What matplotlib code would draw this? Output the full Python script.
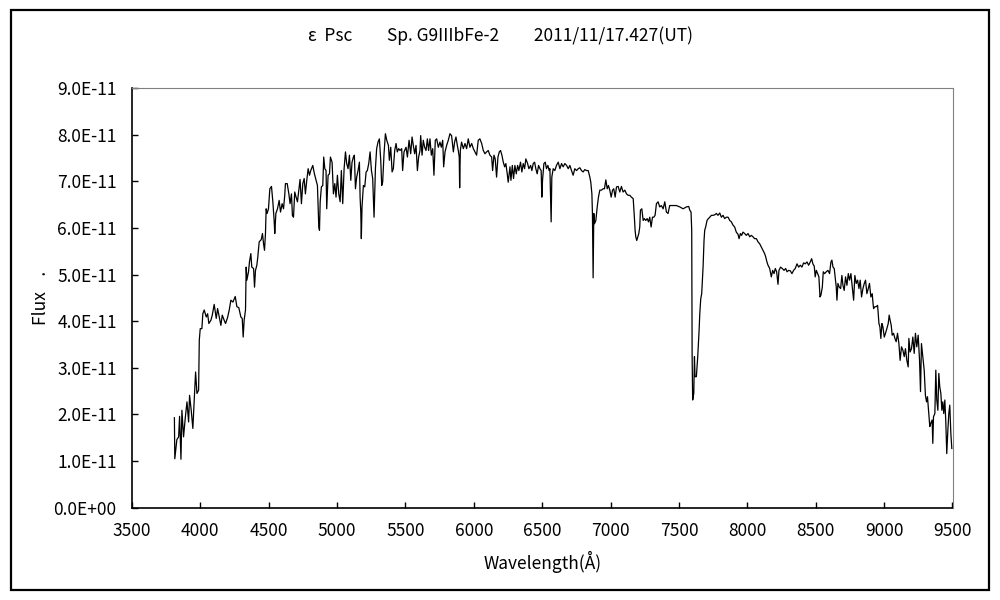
import numpy as np
import matplotlib
matplotlib.use("Agg")
import matplotlib.pyplot as plt
from matplotlib.patches import Rectangle
from matplotlib.ticker import FuncFormatter, MultipleLocator

plt.rcParams['font.family'] = ['Noto Sans CJK JP', 'DejaVu Sans']

# 波長 (Å) とフラックス (x1e-11) : 図から読み取った値
wave_blue = [3810, 3813, 3828, 3841, 3848, 3858, 3865, 3877, 3889, 3902, 3914, 3921, 3933, 3945,
             3955, 3965, 3975, 3987, 3992, 3999, 4011, 4018, 4028, 4043, 4053, 4062, 4077, 4087,
             4101, 4116, 4126, 4140, 4150, 4160, 4174, 4184, 4199, 4211, 4223, 4238, 4255, 4267,
             4281, 4296, 4306, 4313, 4320, 4330, 4335, 4340, 4352, 4359, 4369, 4376, 4389, 4396,
             4403, 4413, 4420, 4430, 4445, 4454, 4462, 4469, 4476, 4481, 4488, 4498, 4508, 4520,
             4530, 4540, 4544, 4552, 4564, 4576, 4586, 4598, 4608, 4617, 4622, 4635, 4647, 4656,
             4666, 4673, 4681, 4690, 4700, 4710, 4720, 4729, 4739, 4749, 4759, 4768, 4778, 4788,
             4798, 4807, 4822, 4834, 4846, 4856, 4866, 4871, 4876, 4885, 4895, 4902, 4910, 4919,
             4924, 4934, 4944, 4951, 4963, 4973, 4983, 4992, 5002, 5012, 5022, 5031, 5041, 5051,
             5061, 5070, 5080, 5090, 5100, 5109, 5119, 5126, 5134, 5143, 5153, 5163, 5168, 5173,
             5177, 5182, 5192, 5202, 5212, 5221, 5231, 5241, 5251, 5260, 5270, 5280, 5289, 5299,
             5309, 5319, 5326, 5333, 5343, 5353, 5363, 5375, 5382, 5392, 5402, 5411, 5421, 5431,
             5440, 5450]
flux_blue = [1.93, 1.05, 1.46, 1.52, 1.96, 1.04, 2.09, 1.52, 1.91, 2.27, 1.84, 2.41, 2.09, 1.70,
             2.31, 2.91, 2.45, 2.52, 3.59, 3.84, 3.84, 4.16, 4.24, 4.09, 4.16, 3.95, 4.02, 4.13,
             4.36, 4.06, 4.27, 4.06, 3.91, 4.13, 4.02, 3.95, 4.08, 4.24, 4.45, 4.41, 4.53, 4.31,
             4.29, 4.09, 4.06, 3.66, 4.02, 4.24, 5.16, 4.88, 5.06, 5.27, 5.45, 5.16, 5.13, 4.73,
             5.09, 5.20, 5.38, 5.70, 5.75, 5.88, 5.66, 5.52, 5.88, 6.41, 6.31, 6.41, 6.84, 6.89,
             6.56, 6.13, 5.88, 6.31, 6.41, 6.59, 6.34, 6.52, 6.41, 6.70, 6.95, 6.95, 6.73, 6.52,
             6.73, 6.27, 6.23, 6.77, 6.66, 6.56, 6.81, 7.04, 6.52, 6.95, 7.06, 6.73, 7.02, 7.27,
             7.13, 7.23, 7.34, 7.16, 7.02, 6.91, 6.02, 5.95, 6.56, 6.88, 6.91, 7.52, 7.27, 7.23,
             6.41, 7.13, 7.16, 7.52, 7.41, 6.73, 6.95, 6.66, 7.13, 6.73, 6.56, 7.23, 6.52, 7.27,
             7.63, 7.38, 7.27, 7.56, 7.02, 7.41, 7.52, 7.56, 6.84, 7.09, 7.23, 7.41, 6.66, 6.34,
             5.77, 6.45, 6.91, 6.88, 7.20, 7.23, 7.38, 7.63, 7.23, 7.06, 6.23, 7.27, 7.70, 7.84,
             7.91, 7.45, 6.91, 6.98, 7.59, 8.02, 7.88, 7.77, 7.45, 7.73, 7.20, 7.27, 7.66, 7.81,
             7.63, 7.70]

wave_mid = [5460, 5472, 5479, 5489, 5504, 5514, 5526, 5538, 5548, 5557, 5567, 5577, 5587, 5596,
            5606, 5611, 5621, 5630, 5640, 5650, 5660, 5669, 5679, 5689, 5699, 5708, 5718, 5728,
            5740, 5752, 5762, 5772, 5779, 5789, 5801, 5813, 5825, 5837, 5850, 5859, 5869, 5879,
            5886, 5893, 5896, 5901, 5910, 5923, 5935, 5947, 5959, 5971, 5984, 5996, 6008, 6020,
            6032, 6044, 6057, 6069, 6081, 6093, 6105, 6117, 6130, 6137, 6147, 6156, 6166, 6176,
            6186, 6195, 6205, 6215, 6225, 6234, 6244, 6251, 6264, 6271, 6281, 6290, 6300, 6310,
            6320, 6329, 6341, 6351, 6361, 6371, 6380, 6393, 6402, 6415, 6424, 6434, 6444, 6453,
            6463, 6473, 6483, 6492, 6497, 6502, 6512, 6522, 6531, 6541, 6551, 6556, 6561, 6565,
            6570, 6580, 6592, 6604, 6617, 6629, 6641, 6653, 6665, 6678, 6690, 6702, 6714, 6726,
            6738, 6751, 6763, 6775, 6787, 6799, 6811, 6824, 6836, 6848, 6855, 6863, 6867, 6872,
            6877, 6882, 6892, 6902, 6911, 6921, 6933, 6945, 6955, 6965, 6975, 6984, 6994, 7004,
            7014, 7023, 7033, 7043, 7055, 7067, 7079, 7091, 7104, 7116, 7128, 7140, 7152, 7165,
            7172, 7179, 7184, 7191, 7199, 7206, 7213, 7218, 7228, 7238, 7247, 7257, 7267, 7277,
            7286, 7296, 7306, 7316, 7325, 7335, 7347, 7359, 7371, 7384, 7396, 7408, 7420]
flux_mid = [7.66, 7.70, 7.23, 7.63, 7.73, 7.52, 7.88, 7.59, 7.95, 7.77, 7.59, 7.77, 7.23, 7.52,
            7.66, 7.98, 7.56, 7.88, 7.73, 7.66, 7.91, 7.66, 7.91, 7.56, 7.70, 7.13, 7.88, 7.91,
            7.73, 7.84, 7.73, 7.88, 7.31, 7.63, 7.77, 7.88, 8.02, 7.98, 7.63, 7.84, 7.95, 7.77,
            7.66, 7.52, 6.86, 7.66, 7.84, 7.70, 7.81, 7.70, 7.91, 7.73, 7.81, 7.70, 7.63, 7.56,
            7.88, 7.91, 7.81, 7.66, 7.59, 7.63, 7.66, 7.56, 7.52, 7.23, 7.56, 7.48, 7.09, 7.52,
            7.63, 7.66, 7.56, 7.41, 7.31, 7.38, 7.16, 6.98, 7.31, 7.02, 7.34, 7.06, 7.34, 7.16,
            7.34, 7.23, 7.41, 7.20, 7.38, 7.27, 7.48, 7.38, 7.27, 7.34, 7.23, 7.38, 7.41, 7.27,
            7.16, 7.34, 7.27, 7.23, 6.66, 7.02, 7.38, 7.41, 7.27, 7.34, 7.23, 7.27, 6.63, 6.13,
            7.09, 7.27, 7.23, 7.34, 7.41, 7.27, 7.38, 7.31, 7.38, 7.34, 7.27, 7.34, 7.23, 7.13,
            7.27, 7.23, 7.27, 7.29, 7.23, 7.20, 7.25, 7.23, 7.23, 7.09, 6.98, 6.73, 6.31, 4.93,
            6.31, 6.09, 6.16, 6.45, 6.66, 6.81, 6.81, 6.84, 6.84, 7.03, 6.84, 6.91, 6.81, 6.66,
            6.81, 6.84, 6.66, 6.88, 6.89, 6.77, 6.89, 6.77, 6.81, 6.73, 6.70, 6.70, 6.66, 6.63,
            6.31, 5.95, 5.81, 5.73, 5.81, 5.88, 6.02, 6.38, 6.41, 6.16, 6.20, 6.16, 6.20, 6.13,
            6.23, 6.02, 6.23, 6.23, 6.27, 6.52, 6.56, 6.45, 6.48, 6.41, 6.56, 6.34, 6.31]

wave_red = [7432, 7457, 7481, 7506, 7530, 7554, 7571, 7579, 7588, 7593, 7596, 7600, 7608, 7613,
            7617, 7627, 7637, 7647, 7652, 7659, 7666, 7676, 7683, 7688, 7695, 7705, 7715, 7725,
            7737, 7749, 7761, 7773, 7785, 7798, 7810, 7822, 7834, 7846, 7859, 7871, 7883, 7895,
            7907, 7919, 7932, 7939, 7949, 7958, 7968, 7980, 7992, 8005, 8017, 8029, 8041, 8053,
            8066, 8078, 8090, 8102, 8114, 8126, 8134, 8143, 8151, 8163, 8175, 8185, 8195, 8204,
            8214, 8224, 8231, 8243, 8255, 8268, 8280, 8290, 8302, 8314, 8326, 8338, 8350, 8363,
            8375, 8387, 8399, 8411, 8423, 8436, 8448, 8460, 8470, 8479, 8489, 8496, 8504, 8514,
            8523, 8531, 8538, 8548, 8555, 8565, 8577, 8589, 8601, 8611, 8618, 8626, 8635, 8643,
            8650, 8655, 8662, 8672, 8682, 8691, 8699, 8708, 8718, 8728, 8738, 8747, 8757, 8767,
            8777, 8786, 8796, 8806, 8816, 8825, 8835, 8845, 8855, 8864, 8874, 8884, 8893, 8903,
            8913, 8918, 8923, 8932, 8942, 8952, 8957, 8962, 8969, 8976, 8984, 8991, 9001, 9010,
            9020, 9030, 9037, 9044, 9052, 9059, 9069, 9079, 9088, 9098, 9108, 9117, 9127, 9137,
            9147, 9156, 9166, 9176, 9181, 9190, 9200, 9210, 9220, 9229, 9239, 9249, 9259, 9266,
            9273, 9283, 9293, 9302, 9310, 9317, 9327, 9334, 9341, 9351, 9356, 9361, 9371, 9378,
            9385, 9393, 9400, 9407, 9415, 9422, 9429, 9436, 9444, 9451, 9458, 9466, 9473, 9480,
            9488, 9495]
flux_red = [6.48, 6.48, 6.48, 6.45, 6.41, 6.45, 6.46, 6.38, 6.34, 5.95, 3.24, 2.31, 2.45, 3.24,
            2.81, 2.81, 3.24, 3.81, 4.16, 4.48, 4.59, 5.16, 5.73, 5.95, 6.02, 6.16, 6.20, 6.23,
            6.27, 6.27, 6.28, 6.31, 6.27, 6.32, 6.23, 6.27, 6.20, 6.23, 6.23, 6.16, 6.13, 6.06,
            6.02, 5.91, 5.86, 5.77, 5.88, 5.84, 5.91, 5.88, 5.84, 5.88, 5.81, 5.84, 5.81, 5.77,
            5.77, 5.70, 5.66, 5.59, 5.52, 5.45, 5.38, 5.27, 5.20, 5.13, 4.95, 5.09, 5.02, 5.13,
            5.06, 4.79, 5.09, 5.16, 5.13, 5.09, 5.13, 5.06, 5.09, 5.08, 5.02, 5.09, 5.13, 5.23,
            5.16, 5.20, 5.16, 5.25, 5.23, 5.27, 5.20, 5.27, 5.34, 5.23, 5.18, 4.95, 5.09, 5.02,
            4.95, 4.52, 4.56, 4.73, 5.06, 5.02, 5.06, 5.09, 5.02, 5.27, 5.31, 5.16, 5.13, 4.91,
            4.73, 4.45, 4.81, 4.73, 4.70, 4.98, 4.77, 4.66, 4.95, 4.77, 5.02, 4.88, 5.02, 4.73,
            4.45, 4.98, 4.81, 4.88, 4.70, 4.88, 4.52, 4.70, 4.81, 4.88, 4.59, 4.70, 4.81, 4.52,
            4.59, 4.41, 4.27, 4.31, 4.31, 4.34, 4.16, 3.95, 3.88, 3.63, 3.95, 3.88, 3.66, 3.74,
            3.84, 3.95, 4.13, 4.02, 3.91, 3.70, 3.74, 3.63, 3.56, 3.74, 3.52, 3.16, 3.45, 3.38,
            3.24, 3.41, 3.16, 3.02, 3.63, 3.34, 3.41, 3.66, 3.31, 3.74, 3.45, 3.70, 3.16, 2.49,
            3.52, 3.24, 2.95, 2.41, 2.27, 2.38, 2.02, 1.74, 1.81, 1.88, 1.38, 1.95, 2.02, 2.95,
            2.31, 2.09, 2.88, 2.59, 2.45, 2.09, 2.27, 2.02, 2.31, 1.84, 1.16, 1.66, 2.02, 2.20,
            1.59, 1.27]

wave = np.array(wave_blue + wave_mid + wave_red)
flux = np.array(flux_blue + flux_mid + flux_red) * 1e-11

title = "ε  Psc　　Sp. G9IIIbFe-2　　2011/11/17.427(UT)"

fig = plt.figure(figsize=(10, 6), dpi=100)
ax = fig.add_axes([0.132, 0.1538, 0.8205, 0.6995])

ax.plot(wave, flux, color='black', lw=0.9)

ax.set_xlim(3500, 9500)
ax.set_ylim(0, 9e-11)
ax.xaxis.set_major_locator(MultipleLocator(500))
ax.yaxis.set_major_locator(MultipleLocator(1e-11))
ax.yaxis.set_major_formatter(FuncFormatter(lambda v, p: f"{v:.1E}"))
ax.tick_params(direction='in', length=4, width=1, labelsize=12.5, colors='black', pad=11)
ax.tick_params(axis='x', pad=10)

for side in ['top', 'right']:
    ax.spines[side].set_color('#808080')
for side in ['left', 'bottom']:
    ax.spines[side].set_color('black')
    ax.spines[side].set_linewidth(1.2)

ax.set_xlabel("Wavelength(Å)", fontsize=12.5, labelpad=8)
ax.set_ylabel("Flux    .", fontsize=12.5, labelpad=1)
ax.yaxis.set_label_coords(-0.100, 0.5)
fig.text(0.5, 0.94, title, ha='center', va='center', fontsize=12.5)

# 外枠
fig.patches.append(Rectangle((0.0105, 0.0167), 0.978, 0.9666, transform=fig.transFigure,
                             fill=False, edgecolor='black', lw=1.6))

fig.savefig("out.png", dpi=100)
